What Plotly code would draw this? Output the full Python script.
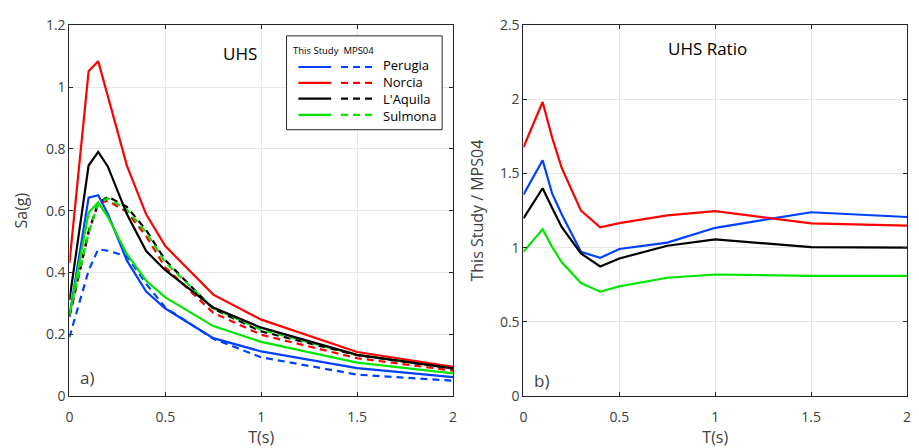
import plotly.graph_objects as go

W, H = 919, 448

periods = [0, 0.1, 0.15, 0.2, 0.3, 0.4, 0.5, 0.75, 1.0, 1.5, 2.0]
sites = ["Perugia", "Norcia", "L'Aquila", "Sulmona"]
colors = ["rgb(0,64,255)", "rgb(255,0,0)", "rgb(0,0,0)", "rgb(0,230,0)"]

# UHS - This Study (solid)
study_perugia = [0.257, 0.642, 0.650, 0.590, 0.438, 0.338, 0.283, 0.187, 0.144, 0.090, 0.061]
study_norcia = [0.430, 1.051, 1.084, 0.972, 0.745, 0.588, 0.485, 0.328, 0.247, 0.142, 0.094]
study_laquila = [0.310, 0.746, 0.790, 0.743, 0.588, 0.469, 0.407, 0.286, 0.221, 0.133, 0.089]
study_sulmona = [0.260, 0.593, 0.627, 0.580, 0.459, 0.373, 0.319, 0.226, 0.175, 0.108, 0.073]

# UHS - MPS04 (dashed)
mps_perugia = [0.190, 0.406, 0.475, 0.470, 0.452, 0.363, 0.286, 0.185, 0.125, 0.069, 0.049]
mps_norcia = [0.256, 0.530, 0.623, 0.632, 0.596, 0.517, 0.416, 0.269, 0.198, 0.122, 0.082]
mps_laquila = [0.259, 0.532, 0.624, 0.645, 0.612, 0.537, 0.439, 0.282, 0.209, 0.132, 0.089]
mps_sulmona = [0.267, 0.527, 0.624, 0.640, 0.603, 0.530, 0.432, 0.284, 0.214, 0.133, 0.090]

# UHS ratio
ratio_perugia = [1.358, 1.590, 1.364, 1.224, 0.972, 0.931, 0.991, 1.034, 1.134, 1.239, 1.207]
ratio_norcia = [1.677, 1.983, 1.741, 1.537, 1.250, 1.138, 1.166, 1.218, 1.246, 1.164, 1.149]
ratio_laquila = [1.198, 1.401, 1.267, 1.138, 0.961, 0.873, 0.927, 1.013, 1.056, 1.004, 1.000]
ratio_sulmona = [0.972, 1.125, 1.004, 0.901, 0.761, 0.703, 0.739, 0.797, 0.819, 0.810, 0.810]

study = [study_perugia, study_norcia, study_laquila, study_sulmona]
mps = [mps_perugia, mps_norcia, mps_laquila, mps_sulmona]
ratio = [ratio_perugia, ratio_norcia, ratio_laquila, ratio_sulmona]

x_ticks = [0, 0.5, 1, 1.5, 2]
x_ticklabels = ["0", "0.5", "1", "1.5", "2"]
y1_ticks = [0, 0.2, 0.4, 0.6, 0.8, 1.0, 1.2]
y1_ticklabels = ["0", "0.2", "0.4", "0.6", "0.8", "1", "1.2"]
y2_ticks = [0, 0.5, 1, 1.5, 2, 2.5]
y2_ticklabels = ["0", "0.5", "1", "1.5", "2", "2.5"]

DASH = "7px,5px"
LW = 2.2
FONT = "Open Sans, Noto Sans, sans-serif"

fig = go.Figure()
for i in range(4):
    fig.add_trace(go.Scatter(x=periods, y=mps[i], mode="lines", xaxis="x", yaxis="y",
                             line=dict(color=colors[i], width=LW, dash=DASH), showlegend=False))
for i in range(4):
    fig.add_trace(go.Scatter(x=periods, y=study[i], mode="lines", xaxis="x", yaxis="y",
                             line=dict(color=colors[i], width=LW), showlegend=False))
for i in range(4):
    fig.add_trace(go.Scatter(x=periods, y=ratio[i], mode="lines", xaxis="x2", yaxis="y2",
                             line=dict(color=colors[i], width=LW), showlegend=False))

def px(x):
    return x / W

def py(y):
    return 1 - y / H

tickfont = dict(family=FONT, size=14, color="#404040")
titlefont = dict(family=FONT, size=16, color="#404040")

ydom = [py(403), py(16)]
common_x = dict(range=[0, 2], tickvals=x_ticks, ticktext=x_ticklabels, showgrid=True,
                gridcolor="#e6e6e6", gridwidth=1, zeroline=False, showline=True, linecolor="#262626",
                linewidth=1, mirror="ticks", ticks="inside", ticklen=4, tickcolor="#262626",
                ticklabelstandoff=8,
                tickfont=tickfont, title=dict(text="T(s)", font=titlefont, standoff=1))
common_y = dict(showgrid=True, gridcolor="#e6e6e6", zeroline=False, showline=True, linecolor="#262626",
                linewidth=1, mirror="ticks", ticks="inside", ticklen=4, tickcolor="#262626",
                tickfont=tickfont)
fig.update_layout(
    width=W, height=H, margin=dict(l=0, r=0, t=0, b=0),
    paper_bgcolor="white", plot_bgcolor="white",
    xaxis=dict(domain=[px(66), px(453)], anchor="y", **common_x),
    xaxis2=dict(domain=[px(524), px(911)], anchor="y2", **common_x),
    yaxis=dict(domain=ydom, anchor="x", range=[0, 1.2], tickvals=y1_ticks, ticktext=y1_ticklabels,
               title=dict(text="Sa(g)", font=titlefont, standoff=14), **common_y),
    yaxis2=dict(domain=ydom, anchor="x2", range=[0, 2.5], tickvals=y2_ticks, ticktext=y2_ticklabels,
                title=dict(text="This Study / MPS04", font=titlefont, standoff=12), **common_y),
    showlegend=False,
)

ann_font = dict(family=FONT, size=17, color="black")
fig.add_annotation(x=px(238), y=py(45), xref="paper", yref="paper", text="UHS", showarrow=False,
                   font=ann_font, xanchor="center", yanchor="middle")
fig.add_annotation(x=px(710), y=py(40), xref="paper", yref="paper", text="UHS Ratio", showarrow=False,
                   font=ann_font, xanchor="center", yanchor="middle")
fig.add_annotation(x=px(75), y=py(384), xref="paper", yref="paper", text="a)", showarrow=False,
                   font=dict(family=FONT, size=17, color="#404040"),
                   xanchor="left", yanchor="middle")
fig.add_annotation(x=px(533), y=py(387), xref="paper", yref="paper", text="b)", showarrow=False,
                   font=dict(family=FONT, size=17, color="#404040"),
                   xanchor="left", yanchor="middle")

# Custom legend (two line styles per row)
fig.add_shape(type="rect", xref="paper", yref="paper", x0=px(285), x1=px(442), y0=py(125), y1=py(27),
              line=dict(color="#262626", width=1), fillcolor="white", layer="above")
fig.add_annotation(x=px(290), y=py(42), xref="paper", yref="paper", text="This Study  MPS04",
                   showarrow=False, xanchor="left", yanchor="middle",
                   font=dict(family=FONT, size=9.5, color="black"))
rows = [59.5, 76, 92.5, 109.5]
for i in range(4):
    yy = py(rows[i])
    fig.add_shape(type="line", xref="paper", yref="paper", x0=px(297), x1=px(330), y0=yy, y1=yy,
                  line=dict(color=colors[i], width=LW), layer="above")
    fig.add_shape(type="line", xref="paper", yref="paper", x0=px(340), x1=px(372), y0=yy, y1=yy,
                  line=dict(color=colors[i], width=LW, dash=DASH), layer="above")
fig.add_annotation(x=px(380), y=py((rows[0] + rows[-1]) / 2), xref="paper", yref="paper",
                   text="<br>".join(sites), showarrow=False, align="left",
                   xanchor="left", yanchor="middle",
                   font=dict(family=FONT, size=13, color="black"))

fig.write_html("out.html")
